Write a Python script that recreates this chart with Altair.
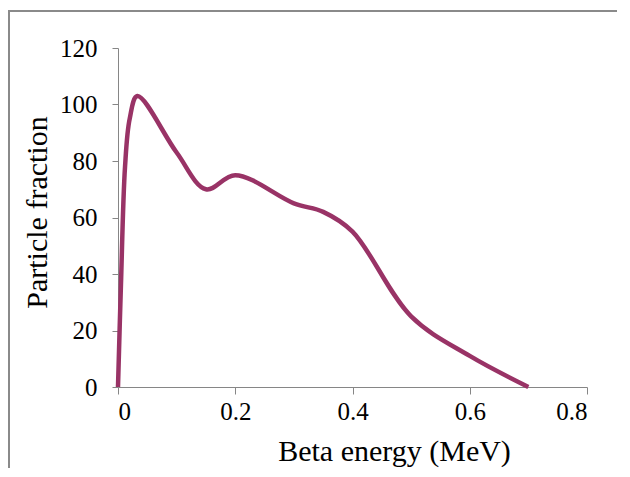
import altair as alt
import pandas as pd

energy = [0, 0.005, 0.012, 0.02, 0.033, 0.1, 0.15, 0.2, 0.3, 0.35, 0.4, 0.5, 0.6, 0.7]
fraction = [0, 36, 78, 95, 103, 83, 70, 75, 65, 62, 55, 25, 11, 0]
x_ticks = [0, 0.2, 0.4, 0.6, 0.8]
y_ticks = [0, 20, 40, 60, 80, 100, 120]

df = pd.DataFrame({"energy": energy, "fraction": fraction})

FONT = "Liberation Serif"

line = alt.Chart(df).mark_line(
    interpolate="catmull-rom", color="#993366", strokeWidth=4.5
).encode(
    x=alt.X("energy:Q",
            scale=alt.Scale(domain=[0, 0.8], nice=False, zero=True),
            axis=alt.Axis(values=x_ticks, format=".1~f", title="Beta energy (MeV)",
                          grid=False, tickSize=7, labelPadding=5,
                          titleX=276, titleY=73, titleAlign="center",
                          titleBaseline="alphabetic")),
    y=alt.Y("fraction:Q",
            scale=alt.Scale(domain=[0, 120], nice=False),
            axis=alt.Axis(values=y_ticks, title="Particle fraction",
                          grid=False, tickSize=6, labelPadding=15,
                          titleX=-81, titleY=164, titleAngle=-90,
                          titleAlign="center", titleBaseline="middle")),
)

frame = alt.Chart(pd.DataFrame({"a": [0]})).mark_rect(
    fill=None, stroke="#8a8a8a", strokeWidth=2, clip=False
).encode(
    x=alt.value(-109), x2=alt.value(620),
    y=alt.value(-37), y2=alt.value(520),
)

chart = alt.layer(frame, line).properties(
    width=469, height=339,
    autosize=alt.AutoSizeParams(type="none"),
    padding={"left": 110, "top": 40, "right": 30, "bottom": 81},
).configure_view(stroke=None).configure_axis(
    domainColor="#868686", tickColor="#868686", domainWidth=1, tickWidth=1,
    labelFont=FONT, labelFontSize=25, labelColor="#000000",
    titleFont=FONT, titleFontSize=30, titleColor="#000000", titleFontWeight="normal",
)

chart.save("out.html", embed_options={"renderer": "svg", "actions": False})
